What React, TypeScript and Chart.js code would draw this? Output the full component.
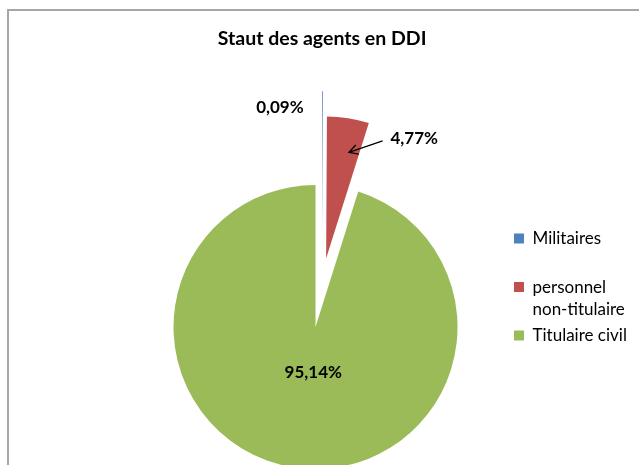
import React, { useEffect, useRef } from 'react';
import { Chart, registerables } from 'chart.js';

Chart.register(...registerables);

// ---- data ----
const TITLE = 'Staut des agents en DDI';
const CATEGORIES = ['Militaires', 'personnel non-titulaire', 'Titulaire civil'];
const LEGEND_LINES = [['Militaires', ''], ['personnel', 'non-titulaire'], ['Titulaire civil']];
const VALUES = [0.09, 4.77, 95.14];

// ---- styles ----
const COLORS = ['#4F81BD', '#C0504D', '#9BBB59'];
const EXPLODE = [51, 26, 43.3]; // px each slice is pulled out along its bisector
const LABEL_POS = [
  { angle: -13.4, dist: 1.282 },
  { angle: 32.3, dist: 1.214 },
  { angle: 185.7, dist: 0.625 },
];
const ARROW = { from: { angle: 22.9, dist: 1.095 }, to: { angle: 11.5, dist: 0.948 } };

const W = 640;
const H = 470;
const RADIUS = 142;
const LEG_FS = 17;
const LEG_PAD = 3.5;
const LEG_BOX = 10;
const CENTER_X = 313.1;
const AREA_RIGHT = 501.5;
const TITLE_FS = 19.5;

const explodePlugin = {
  id: 'explodeSlices',
  beforeDatasetDraw(chart: any, args: any) {
    const ctx = chart.ctx;
    args.meta.data.forEach((arc: any, i: number) => {
      const mid = (arc.startAngle + arc.endAngle) / 2;
      const d = EXPLODE[i] || 0;
      ctx.save();
      ctx.translate(Math.cos(mid) * d, Math.sin(mid) * d);
      arc.draw(ctx, chart.chartArea);
      ctx.restore();
    });
    return false;
  },
};

const labelsPlugin = {
  id: 'sliceLabels',
  afterDatasetsDraw(chart: any) {
    const meta = chart.getDatasetMeta(0);
    const arc0: any = meta.data[0];
    if (!arc0) return;
    const cx = arc0.x;
    const cy = arc0.y;
    const R = arc0.outerRadius;
    const pt = (p: { angle: number; dist: number }) => {
      const a = (p.angle * Math.PI) / 180;
      return { x: cx + p.dist * R * Math.sin(a), y: cy - p.dist * R * Math.cos(a) };
    };
    const ctx = chart.ctx;
    ctx.save();
    ctx.font = 'bold 17px Lato';
    ctx.fillStyle = '#000';
    ctx.textAlign = 'center';
    ctx.textBaseline = 'middle';
    VALUES.forEach((v, i) => {
      const p = pt(LABEL_POS[i]);
      ctx.fillText(v.toFixed(2).replace('.', ',') + '%', p.x, p.y);
    });
    const a = pt(ARROW.from);
    const b = pt(ARROW.to);
    const ang = Math.atan2(b.y - a.y, b.x - a.x);
    const L = 10;
    const w = 0.5;
    ctx.strokeStyle = '#000';
    ctx.lineWidth = 1.3;
    ctx.beginPath();
    ctx.moveTo(a.x, a.y);
    ctx.lineTo(b.x, b.y);
    ctx.moveTo(b.x - L * Math.cos(ang - w), b.y - L * Math.sin(ang - w));
    ctx.lineTo(b.x, b.y);
    ctx.lineTo(b.x - L * Math.cos(ang + w), b.y - L * Math.sin(ang + w));
    ctx.stroke();
    ctx.restore();
  },
};

export default function App() {
  const ref = useRef<HTMLCanvasElement>(null);

  useEffect(() => {
    const canvas = ref.current;
    if (!canvas) return;

    const m = document.createElement('canvas').getContext('2d')!;
    m.font = `normal ${LEG_FS}px Lato`;
    const maxItemW = Math.max(
      ...LEGEND_LINES.map((lines) => {
        const longest = lines.reduce((x, y) => (x.length > y.length ? x : y));
        return LEG_BOX + LEG_FS / 2 + m.measureText(longest).width;
      })
    );
    const legendW = LEG_PAD + maxItemW + 10;
    const padRight = W - AREA_RIGHT - legendW;
    const padLeft = 2 * CENTER_X - AREA_RIGHT;

    const chart = new Chart(canvas, {
      type: 'pie',
      data: {
        labels: CATEGORIES,
        datasets: [
          {
            data: VALUES,
            backgroundColor: COLORS,
            borderWidth: 0,
            radius: RADIUS,
            clip: false,
          } as any,
        ],
      },
      options: {
        responsive: false,
        maintainAspectRatio: false,
        animation: false,
        events: [],
        layout: { padding: { left: padLeft, right: padRight, top: 0, bottom: 127.9 } },
        plugins: {
          tooltip: { enabled: false },
          title: {
            display: true,
            text: TITLE,
            fullSize: false,
            color: '#000',
            font: { family: 'Lato', size: TITLE_FS, weight: 'bold' },
            padding: { top: 15.95, bottom: 164.95 },
          },
          legend: {
            display: true,
            position: 'right',
            align: 'end',
            fullSize: false,
            labels: {
              boxWidth: LEG_BOX,
              boxHeight: LEG_BOX,
              padding: LEG_PAD,
              color: '#000',
              font: { family: 'Lato', size: LEG_FS, lineHeight: '22.5px' as any },
              generateLabels: () =>
                LEGEND_LINES.map((text, i) => ({
                  text: text as any,
                  fillStyle: COLORS[i],
                  strokeStyle: COLORS[i],
                  lineWidth: 0,
                  hidden: false,
                  index: i,
                  fontColor: '#000',
                })) as any,
            },
          },
        },
      } as any,
      plugins: [explodePlugin, labelsPlugin],
    });
    return () => chart.destroy();
  }, []);

  return (
    <div
      style={{
        position: 'fixed',
        left: 7,
        top: 9,
        width: 632,
        height: 456,
        overflow: 'hidden',
        borderTop: '2px solid #a6a6a6',
        borderLeft: '2px solid #a6a6a6',
        boxSizing: 'border-box',
        background: '#fff',
      }}
    >
      <canvas ref={ref} width={W} height={H} style={{ display: 'block', width: W, height: H }} />
    </div>
  );
}
